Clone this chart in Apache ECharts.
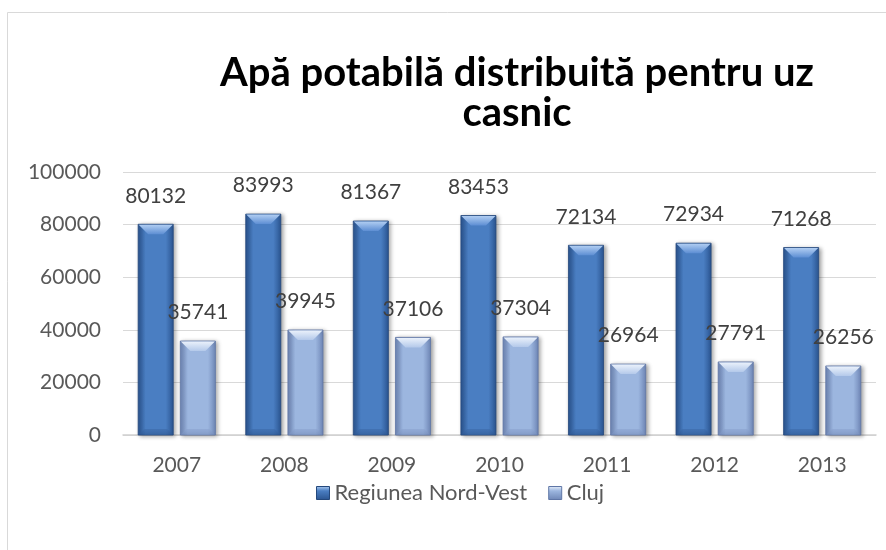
<!DOCTYPE html>
<html>
<head>
<meta charset="utf-8">
<script src="https://cdn.jsdelivr.net/npm/echarts@6/dist/echarts.min.js"></script>
<style>
  html, body { margin: 0; padding: 0; background: #ffffff; }
  #chart { width: 886px; height: 550px; }
</style>
</head>
<body>
<div id="chart"></div>
<script>
// Household drinking water distributed, 2007-2013
const years = ['2007', '2008', '2009', '2010', '2011', '2012', '2013'];
const nordVest = [80132, 83993, 81367, 83453, 72134, 72934, 71268];
const cluj = [35741, 39945, 37106, 37304, 26964, 27791, 26256];
const seriesNames = ['Regiunea Nord-Vest', 'Cluj'];
const yMin = 0, yMax = 100000, yStep = 20000;

const FONT = 'Lato, "Open Sans", sans-serif';
const G = echarts.graphic;

// bevelled column colours for each series
const palettes = [
  { edge: '#2a5490', mid: '#4a7ec2', line: '#24487c', topA: '#b0cdf2', topB: '#5d8ed3', botA: '#3c6aa9', botB: '#2f5a96' },
  { edge: '#6e86b6', mid: '#9cb6df', line: '#5f76a6', topA: '#eaf1fb', topB: '#b4c9ea', botA: '#8ba3cf', botB: '#7a92c0' }
];

function bodyFill(p) {
  return new G.LinearGradient(0, 0, 1, 0, [
    { offset: 0, color: p.edge },
    { offset: 0.22, color: p.mid },
    { offset: 0.78, color: p.mid },
    { offset: 1, color: p.edge }
  ]);
}

function makeRenderer(idx) {
  return function (params, api) {
    const c = api.value(0);
    const v = api.value(1);
    const base = api.coord([c, 0]);
    const top = api.coord([c, v]);
    const band = api.size([1, 0])[0];
    const w = band * 0.326;
    const gap = band * 0.066;
    const x = idx === 0 ? base[0] - gap / 2 - w : base[0] + gap / 2;
    const yTop = top[1];
    const yBot = base[1];
    const h = yBot - yTop;
    const p = palettes[idx];
    const bv = Math.min(10, h / 2);
    const inset = 10;
    return {
      type: 'group',
      children: [
        {
          type: 'rect',
          shape: { x: x, y: yTop, width: w, height: h },
          style: {
            fill: bodyFill(p),
            stroke: p.line,
            lineWidth: 0.8,
            shadowBlur: 4,
            shadowOffsetX: 2,
            shadowOffsetY: 1,
            shadowColor: 'rgba(0,0,0,0.35)'
          }
        },
        {
          type: 'polygon',
          shape: { points: [[x + 0.5, yTop + 0.5], [x + w - 0.5, yTop + 0.5], [x + w - inset, yTop + bv], [x + inset, yTop + bv]] },
          style: {
            fill: new G.LinearGradient(0, 0, 0, 1, [
              { offset: 0, color: p.topA },
              { offset: 1, color: p.topB }
            ])
          }
        },
        {
          type: 'polygon',
          shape: { points: [[x + inset * 0.6, yBot - 6], [x + w - inset * 0.6, yBot - 6], [x + w - 0.5, yBot - 0.5], [x + 0.5, yBot - 0.5]] },
          style: {
            fill: new G.LinearGradient(0, 0, 0, 1, [
              { offset: 0, color: p.botA },
              { offset: 1, color: p.botB }
            ]),
            opacity: 0.6
          }
        },
        {
          type: 'text',
          style: {
            text: String(v),
            x: x + w / 2,
            y: yTop - 18,
            align: 'center',
            verticalAlign: 'bottom',
            fill: '#404040',
            fontSize: 21,
            fontFamily: FONT
          }
        }
      ]
    };
  };
}

function legendIcon(p) {
  return new G.LinearGradient(0, 0, 0, 1, [
    { offset: 0, color: p.topA },
    { offset: 0.35, color: p.mid },
    { offset: 1, color: p.edge }
  ]);
}

const chart = echarts.init(document.getElementById('chart'), null, { renderer: 'canvas' });

chart.setOption({
  animation: false,
  backgroundColor: '#ffffff',
  title: {
    text: 'Apă potabilă distribuită pentru uz\ncasnic',
    left: 512,
    top: 48,
    textAlign: 'center',
    textStyle: {
      fontFamily: FONT,
      fontSize: 40,
      fontWeight: 'bold',
      color: '#000000',
      lineHeight: 40
    }
  },
  graphic: [
    {
      type: 'rect',
      shape: { x: 7.5, y: 12.5, width: 900, height: 600 },
      style: { fill: 'none', stroke: '#d9d9d9', lineWidth: 1 },
      silent: true,
      z: -1
    }
  ],
  legend: {
    left: 311,
    top: 477,
    itemWidth: 13,
    itemHeight: 13,
    itemGap: 21,
    textStyle: { fontFamily: FONT, fontSize: 22, color: '#595959' },
    data: [
      { name: seriesNames[0], icon: 'rect', itemStyle: { color: legendIcon(palettes[0]), borderColor: palettes[0].line, borderWidth: 1 } },
      { name: seriesNames[1], icon: 'rect', itemStyle: { color: legendIcon(palettes[1]), borderColor: palettes[1].line, borderWidth: 1 } }
    ]
  },
  grid: { left: 123, right: 10, top: 172, bottom: 115, containLabel: false },
  xAxis: {
    type: 'category',
    data: years,
    axisTick: { show: false },
    axisLine: { show: true, lineStyle: { color: '#d0d0d0', width: 1.5 } },
    axisLabel: { margin: 20, fontFamily: FONT, fontSize: 21, color: '#595959' }
  },
  yAxis: {
    type: 'value',
    min: yMin,
    max: yMax,
    interval: yStep,
    axisLine: { show: false },
    axisTick: { show: false },
    splitLine: { lineStyle: { color: '#d9d9d9', width: 1 } },
    axisLabel: {
      margin: 22,
      fontFamily: FONT,
      fontSize: 21,
      color: '#595959',
      formatter: (val) => String(val)
    }
  },
  series: [
    {
      name: seriesNames[0],
      type: 'custom',
      renderItem: makeRenderer(0),
      itemStyle: { color: palettes[0].mid },
      encode: { x: 0, y: 1 },
      data: years.map((y, i) => [i, nordVest[i]])
    },
    {
      name: seriesNames[1],
      type: 'custom',
      renderItem: makeRenderer(1),
      itemStyle: { color: palettes[1].mid },
      encode: { x: 0, y: 1 },
      data: years.map((y, i) => [i, cluj[i]])
    }
  ]
});
</script>
</body>
</html>
